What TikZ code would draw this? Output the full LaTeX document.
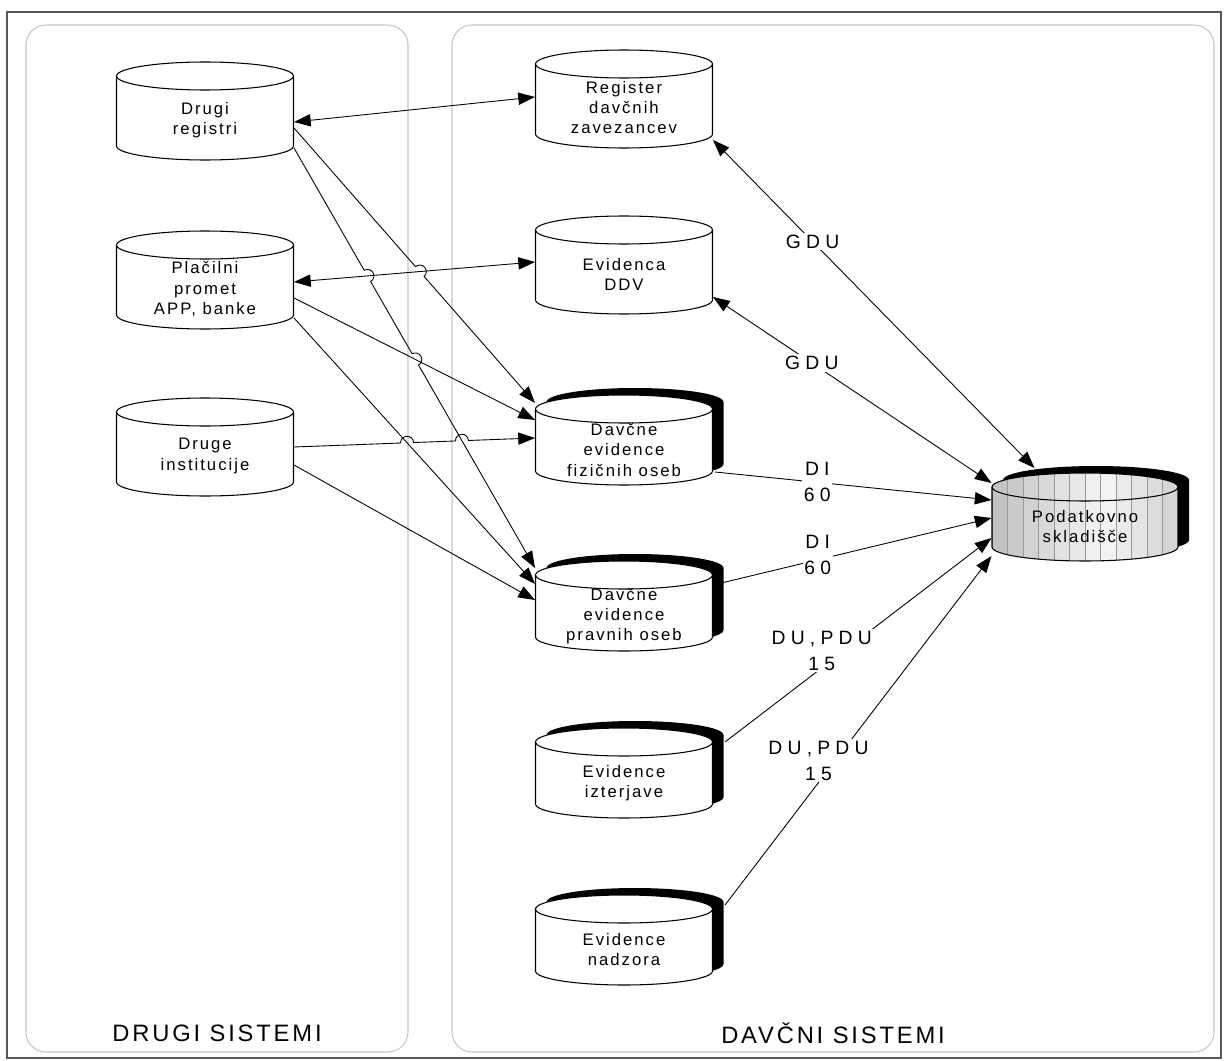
\documentclass[tikz,border=0pt]{standalone}
\usepackage{fontspec}
\setmainfont{Liberation Sans}
\newfontfamily\cylfont[LetterSpace=12]{Liberation Sans}
\newfontfamily\flowfont[LetterSpace=27]{Liberation Sans}
\usetikzlibrary{arrows.meta, calc, intersections}

% upright drum: [path options]{centre x}{centre y}{half width}{half side}
\newcommand\drum[5][draw, fill=white]{%
  \path[#1, shift={(#2,#3)}] (-#4,-#5) -- (-#4,#5)
    arc[start angle=180, end angle=360, x radius=#4*0.02cm, y radius=0.28cm]
    -- (#4,-#5)
    arc[start angle=0, end angle=180, x radius=#4*0.02cm, y radius=0.28cm] -- cycle;
}
% front edge of the lid
\newcommand\lid[4]{%
  \draw[shift={(#1,#2)}] (-#3,-#4)
    arc[start angle=180, end angle=360, x radius=#3*0.02cm, y radius=0.28cm];
}
\def\hr{0.13cm}

\begin{document}
\begin{tikzpicture}[x=0.02cm, y=-0.02cm, line width=0.6pt,
    link/.style={line width=0.5pt},
    onehead/.style={-{Triangle[length=9.5pt, width=7pt]}},
    twohead/.style={{Triangle[length=9.5pt, width=7pt]}-{Triangle[length=9.5pt, width=7pt]}},
    storetext/.style={font=\cylfont\fontsize{9.5pt}{11.4pt}\selectfont, align=center,
      minimum width=3.54cm, inner sep=0pt},
    flowtext/.style={font=\flowfont\fontsize{11pt}{14.8pt}\selectfont, align=center,
      fill=white, inner sep=1pt},
    paneltitle/.style={font=\cylfont\fontsize{13.5pt}{16pt}\selectfont}]
    \useasboundingbox (0,0) rectangle (1224,1061);

    % Frame and the two groups
    \draw[gray!70!black, line width=0.8pt] (7,12) rectangle (1221,1058);
    \draw[gray!45, rounded corners=0.4cm] (26,25) rectangle (408,1052);
    \draw[gray!45, rounded corners=0.4cm] (452,25) rectangle (1214,1052);
    \node[paneltitle] (drugi) at (217,1033) {DRUGI SISTEMI};
    \node[paneltitle] (davcni) at (833,1033) {DAVČNI SISTEMI};

    % Outside registers
    \drum{205}{111}{88.5}{35} \lid{205}{111}{88.5}{35}
    \node[storetext] (dr) at (205,120) {Drugi\\registri};
    \drum{205}{280}{88.5}{35} \lid{205}{280}{88.5}{35}
    \node[storetext] (pp) at (205,289) {Plačilni\\promet\\APP, banke};
    \drum{205}{447}{88.5}{35} \lid{205}{447}{88.5}{35}
    \node[storetext] (di) at (205,456) {Druge\\institucije};

    % Tax registers
    \drum{624}{99}{88.5}{35} \lid{624}{99}{88.5}{35}
    \node[storetext] (rdz) at (624,108) {Register\\davčnih\\zavezancev};
    \drum{624}{265}{88.5}{35} \lid{624}{265}{88.5}{35}
    \node[storetext] (ddv) at (624,274) {Evidenca\\DDV};

    % Tax records, with black shadow
    \drum[fill=black]{635}{433}{88.5}{31}
    \drum{624}{440}{88.5}{31} \lid{624}{440}{88.5}{31}
    \node[storetext] (defo) at (624,450) {Davčne\\evidence\\fizičnih oseb};
    \drum[fill=black]{635}{599}{88.5}{31}
    \drum{624}{606}{88.5}{31} \lid{624}{606}{88.5}{31}
    \node[storetext] (depo) at (624,616) {Davčne\\evidence\\pravnih oseb};
    \drum[fill=black]{635}{766}{88.5}{31}
    \drum{624}{773}{88.5}{31} \lid{624}{773}{88.5}{31}
    \node[storetext] (ei) at (624,783) {Evidence\\izterjave};
    \drum[fill=black]{635}{933}{88.5}{31}
    \drum{624}{940}{88.5}{31} \lid{624}{940}{88.5}{31}
    \node[storetext] (en) at (624,950) {Evidence\\nadzora};

    % Data warehouse
    \drum[fill=black]{1096}{510}{93}{30}
    \begin{scope}
      \drum[clip]{1085}{517}{93}{30}
      \foreach \k in {0,...,11} {
        \pgfmathsetmacro\g{8+70*abs((\k+0.5)/12-0.6)}
        \fill[gray!\g] (992+\k*15.5,450) rectangle ++(15.5,120);
        \draw[gray!80, line width=0.3pt] (992+\k*15.5,450) -- ++(0,120);
      }
    \end{scope}
    \drum[draw]{1085}{517}{93}{30} \lid{1085}{517}{93}{30}
    \node[storetext, minimum width=3.72cm] (ps) at (1085,527) {Podatkovno\\skladišče};

    % Links from the other systems
    \draw[link, twohead] ($(dr.east)+(0,2)$) -- ($(rdz.west)+(0,-11)$);
    \draw[link, twohead, name path=pp-ddv] ($(pp.east)+(0,-7)$) -- ($(ddv.west)+(0,-12)$);
    \draw[link, onehead, name path=pp-defo] ($(pp.east)+(0,9)$) -- ($(defo.west)+(0,-30)$);
    \draw[link, onehead, name path=pp-depo] ($(pp.east)+(0,29)$) -- ($(depo.west)+(0,-32)$);
    \draw[link, onehead] ($(di.east)+(0,9)$) -- ($(depo.west)+(0,-16)$);

    % Links that hop over the others
    \coordinate (dr-a) at ($(dr.east)+(0,8)$);
    \coordinate (defo-a) at ($(defo.west)+(0,-47)$);
    \coordinate (dr-b) at ($(dr.east)+(0,28)$);
    \coordinate (depo-b) at ($(depo.west)+(0,-48)$);
    \coordinate (di-a) at ($(di.east)+(0,-9)$);
    \coordinate (defo-c) at ($(defo.west)+(0,-12)$);
    \path[name path=dr-defo] (dr-a) -- (defo-a);
    \path[name path=dr-depo] (dr-b) -- (depo-b);
    \path[name path=di-defo] (di-a) -- (defo-c);
    \path[name intersections={of=dr-defo and pp-ddv, by=j1}];
    \path[name intersections={of=dr-depo and pp-ddv, by=j2}];
    \path[name intersections={of=dr-depo and pp-defo, by=j3}];
    \path[name intersections={of=di-defo and pp-depo, by=j4}];
    \path[name intersections={of=di-defo and dr-depo, by=j5}];

    \draw[link, onehead] let \p1=($(defo-a)-(dr-a)$), \n1={atan2(\y1,\x1)} in
      (dr-a) -- ($(j1)!\hr!(dr-a)$) arc[start angle=\n1+180, end angle=\n1, radius=\hr]
      -- (defo-a);
    \draw[link, onehead] let \p1=($(depo-b)-(dr-b)$), \n1={atan2(\y1,\x1)} in
      (dr-b) -- ($(j2)!\hr!(dr-b)$) arc[start angle=\n1+180, end angle=\n1, radius=\hr]
      -- ($(j3)!\hr!(dr-b)$) arc[start angle=\n1+180, end angle=\n1, radius=\hr]
      -- (depo-b);
    \draw[link, onehead] let \p1=($(defo-c)-(di-a)$), \n1={atan2(\y1,\x1)} in
      (di-a) -- ($(j4)!\hr!(di-a)$) arc[start angle=\n1+180, end angle=\n1, radius=\hr]
      -- ($(j5)!\hr!(di-a)$) arc[start angle=\n1+180, end angle=\n1, radius=\hr]
      -- (defo-c);

    % Loads into the data warehouse
    \draw[link, twohead] ($(rdz.east)+(0,32)$) -- node[flowtext, pos=.31] (gdu-a) {GDU}
      ($(ps.west)+(43,-59)$);
    \draw[link, twohead] ($(ddv.east)+(0,23)$) -- node[flowtext, pos=.355] (gdu-b) {GDU}
      ($(ps.west)+(0,-44)$);
    \draw[link, onehead] ($(defo.east)+(2,22)$) -- node[flowtext, pos=.37] (di-fo) {DI\\60}
      ($(ps.west)+(0,-27)$);
    \draw[link, onehead] ($(depo.east)+(0,-31)$) -- node[flowtext, pos=.376, yshift=.1cm] (di-po) {DI\\60}
      ($(ps.west)+(0,-9)$);
    \draw[link, onehead] ($(ei.east)+(12,-41)$) -- node[flowtext, pos=.363, yshift=.34cm] (du-i) {DU,PDU\\15}
      ($(ps.west)+(0,11)$);
    \draw[link, onehead] ($(en.east)+(12,-45)$) -- node[flowtext, pos=.351, yshift=.44cm] (du-n) {DU,PDU\\15}
      ($(ps.west)+(0,29)$);
\end{tikzpicture}
\end{document}
